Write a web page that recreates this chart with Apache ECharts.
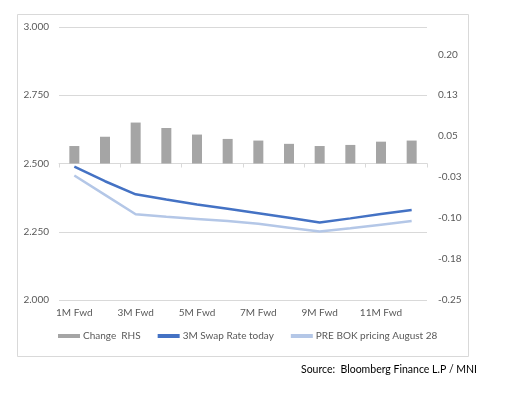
<!DOCTYPE html>
<html>
<head>
<meta charset="utf-8">
<script src="https://cdn.jsdelivr.net/npm/echarts@6/dist/echarts.min.js"></script>
<style>
html,body{margin:0;padding:0;background:#fff;}
#c{width:520px;height:393px;}
</style>
</head>
<body>
<div id="c"></div>
<script>
var categories = ['1M Fwd','2M Fwd','3M Fwd','4M Fwd','5M Fwd','6M Fwd','7M Fwd','8M Fwd','9M Fwd','10M Fwd','11M Fwd','12M Fwd'];
var changeRHS = [0.032, 0.049, 0.075, 0.065, 0.053, 0.045, 0.042, 0.036, 0.032, 0.034, 0.040, 0.042];
var swapToday = [2.489, 2.435, 2.387, 2.368, 2.350, 2.334, 2.318, 2.301, 2.284, 2.299, 2.315, 2.330];
var preBOK = [2.456, 2.385, 2.314, 2.305, 2.297, 2.289, 2.279, 2.265, 2.251, 2.263, 2.276, 2.289];
var leftTicks = [2.0, 2.25, 2.5, 2.75, 3.0];
var rightTickValues = [-0.25, -0.175, -0.1, -0.025, 0.05, 0.125, 0.2];
var rightTickLabels = ['-0.25', '-0.18', '-0.10', '-0.03', '0.05', '0.13', '0.20'];
var seriesNames = ['Change  RHS', '3M Swap Rate today', 'PRE BOK pricing August 28'];
var sourceText = 'Source:  Bloomberg Finance L.P / MNI';

var FONT = 'Lato';
var chart = echarts.init(document.getElementById('c'), null, {renderer: 'canvas'});
chart.setOption({
  animation: false,
  backgroundColor: '#ffffff',
  textStyle: {fontFamily: FONT},
  grid: {left: 59, right: 93, top: 27, bottom: 93, containLabel: false},
  legend: {
    left: 58, top: 331, padding: 0,
    itemWidth: 22, itemHeight: 4, itemGap: 17,
    icon: 'rect',
    textStyle: {fontFamily: FONT, fontSize: 10, color: '#595959', padding: [0,0,0,-2]},
    data: seriesNames
  },
  xAxis: {
    type: 'category',
    data: categories,
    boundaryGap: true,
    axisLine: {lineStyle: {color: '#d9d9d9'}},
    axisTick: {show: true, length: 4, lineStyle: {color: '#d9d9d9'}},
    axisLabel: {interval: 1, color: '#595959', fontFamily: FONT, fontSize: 10, margin: 8}
  },
  yAxis: [{
    type: 'value', min: 2.0, max: 3.0, interval: 0.25,
    axisLine: {show: false}, axisTick: {show: false},
    splitLine: {lineStyle: {color: '#d9d9d9'}},
    axisLabel: {color: '#595959', fontFamily: FONT, fontSize: 10, margin: 10,
      formatter: function (v) { return v.toFixed(3); }}
  }, {
    type: 'value', min: -0.25, max: 0.25,
    axisLine: {show: false}, axisTick: {show: false},
    splitLine: {show: false},
    axisLabel: {color: '#595959', fontFamily: FONT, fontSize: 10, margin: 11,
      customValues: rightTickValues,
      formatter: function (v) {
        for (var i = 0; i < rightTickValues.length; i++) {
          if (Math.abs(rightTickValues[i] - v) < 1e-6) return rightTickLabels[i];
        }
        return '';
      }}
  }],
  series: [{
    name: seriesNames[0], type: 'bar', yAxisIndex: 1, data: changeRHS,
    barWidth: 10, itemStyle: {color: '#a5a5a5'}
  }, {
    name: seriesNames[1], type: 'line', yAxisIndex: 0, data: swapToday,
    showSymbol: false, symbol: 'none', lineStyle: {color: '#4472c4', width: 2.5},
    itemStyle: {color: '#4472c4'}
  }, {
    name: seriesNames[2], type: 'line', yAxisIndex: 0, data: preBOK,
    showSymbol: false, symbol: 'none', lineStyle: {color: '#b4c7e7', width: 2.5},
    itemStyle: {color: '#b4c7e7'}
  }],
  graphic: [{
    type: 'rect', silent: true, z: -1,
    shape: {x: 17.5, y: 14.5, width: 451, height: 342},
    style: {fill: 'none', stroke: '#d9d9d9', lineWidth: 1}
  }, {
    type: 'text', left: 301, top: 364,
    style: {text: sourceText, fill: '#000000', font: '10.5px Lato'}
  }]
});
</script>
</body>
</html>
